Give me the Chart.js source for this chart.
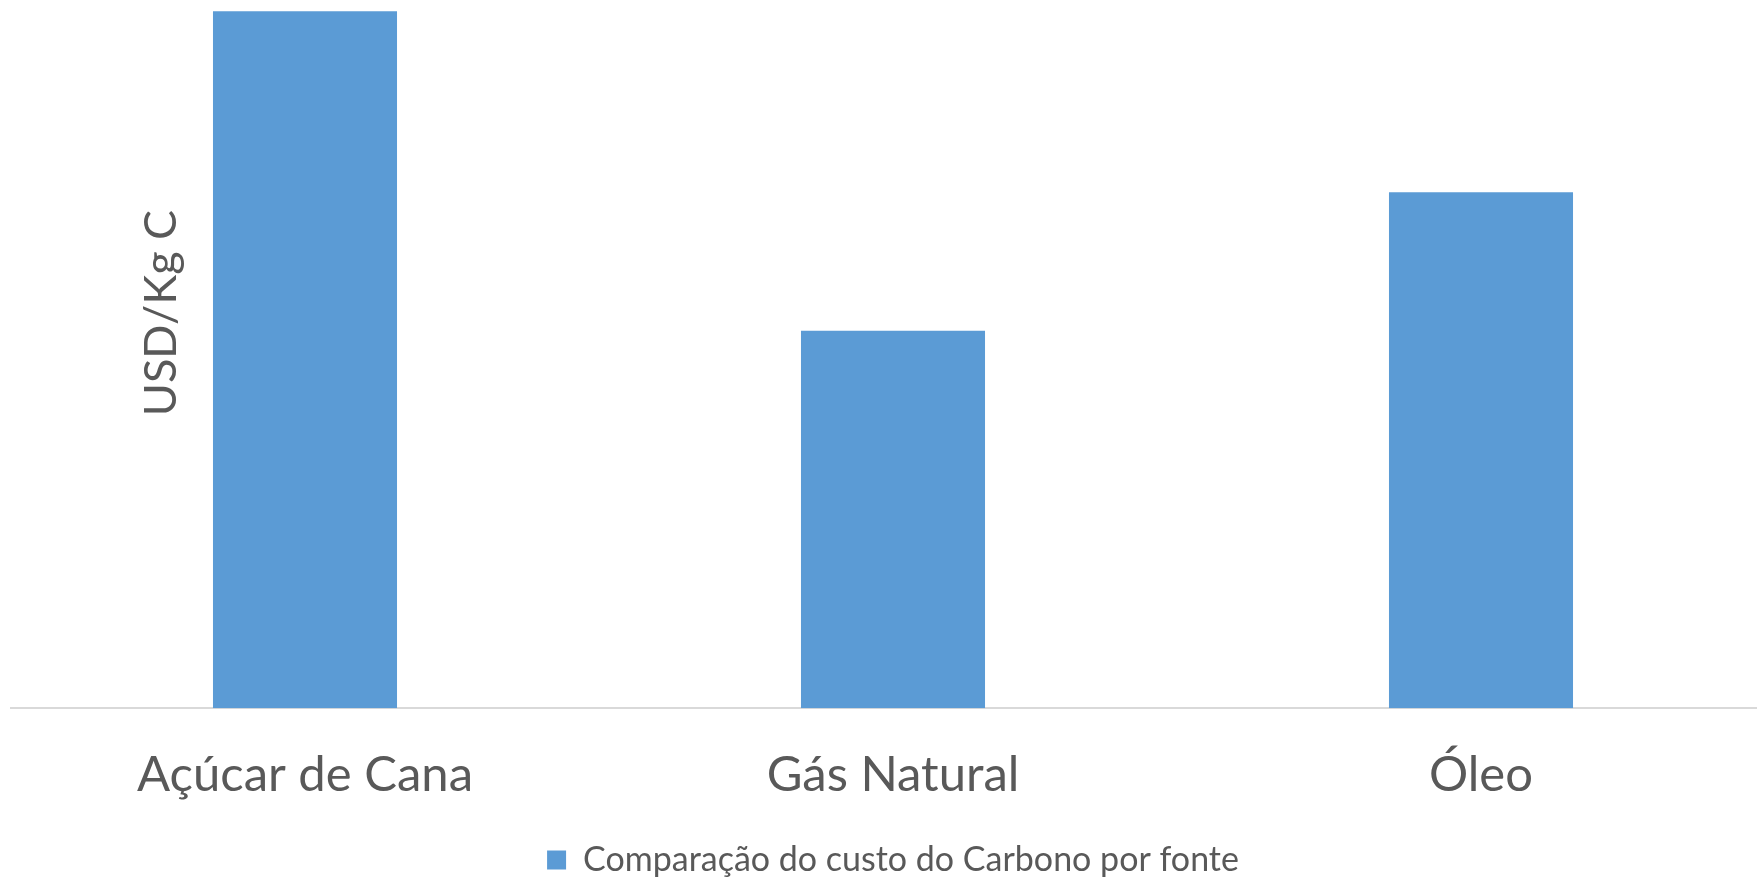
<!DOCTYPE html>
<html>
<head>
<meta charset="utf-8">
<script src="https://cdn.jsdelivr.net/npm/chart.js@4/dist/chart.umd.min.js"></script>
<style>
  html, body { margin: 0; padding: 0; background: #fff; overflow: hidden; }
  #wrap { width: 1776px; height: 887px; position: relative; }
</style>
</head>
<body>
<div id="wrap"><canvas id="chart"></canvas></div>
<script>
// Custo do carbono por fonte (USD/Kg C)
const categories = ['Açúcar de Cana', 'Gás Natural', 'Óleo'];
const costValues = [0.0689, 0.0373, 0.0510];
const seriesLabel = 'Comparação do custo do Carbono por fonte';
const yTitle = 'USD/Kg C';
const yMax = 0.07;

const textColor = '#595959';
const fontFamily = 'Lato, "Open Sans", sans-serif';

// y axis title sits inside the plot area, so it is drawn by hand
const yTitlePlugin = {
    id: 'yTitleInside',
    afterDraw(chart) {
        const ctx = chart.ctx;
        ctx.save();
        ctx.translate(161, 313);
        ctx.rotate(-Math.PI / 2);
        ctx.font = '45px ' + fontFamily;
        ctx.fillStyle = textColor;
        ctx.textAlign = 'center';
        ctx.textBaseline = 'middle';
        ctx.fillText(yTitle, 0, 0);
        ctx.restore();
    }
};

new Chart(document.getElementById('chart'), {
    type: 'bar',
    data: {
        labels: categories,
        datasets: [{
            label: seriesLabel,
            data: costValues,
            backgroundColor: '#5B9BD5',
            borderWidth: 0,
            barPercentage: 1,
            categoryPercentage: 0.313
        }]
    },
    options: {
        responsive: true,
        maintainAspectRatio: false,
        animation: false,
        layout: {
            padding: { left: 11, right: 1, top: 0, bottom: 0 }
        },
        scales: {
            x: {
                grid: { display: false, drawTicks: false },
                border: { color: '#d9d9d9', width: 2 },
                ticks: {
                    color: textColor,
                    padding: 38,
                    font: { family: fontFamily, size: 49 }
                }
            },
            y: {
                display: false,
                min: 0,
                max: yMax
            }
        },
        plugins: {
            legend: {
                position: 'bottom',
                labels: {
                    boxWidth: 19,
                    boxHeight: 19,
                    padding: 0,
                    color: textColor,
                    font: { family: fontFamily, size: 34 }
                }
            },
            tooltip: { enabled: false }
        }
    },
    plugins: [yTitlePlugin]
});
</script>
</body>
</html>
